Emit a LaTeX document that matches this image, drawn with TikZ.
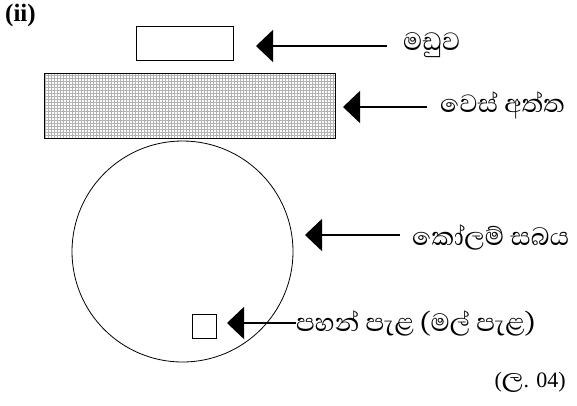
\documentclass[tikz,border=0pt]{standalone}
\usepackage{fontspec}
\setmainfont{Liberation Serif}
\newfontfamily\sinhfont[Script=Sinhala]{Abhaya Libre}
\usetikzlibrary{arrows.meta}
\begin{document}
\begin{tikzpicture}[x=1pt,y=-1pt,
  arr/.style={line width=1.5pt,-{Triangle[length=17pt,width=32pt]}},
  lbl/.style={anchor=west,inner sep=0pt,font=\sinhfont\fontsize{32}{36}\selectfont},
  shp/.style={draw,line width=0.9pt}]
\useasboundingbox (0,0) rectangle (577,405);
\node[anchor=north west,inner sep=0pt,font=\bfseries\fontsize{25}{28}\selectfont] (ii) at (5,4) {(ii)};
% stage
\node[shp,minimum width=97pt,minimum height=34pt,inner sep=0pt] (maduva) at (184.5,43) {};
% hatched rectangle
\fill[white] (44,73) rectangle (335,138);
\draw[gray!60,line width=0.35pt,step=3pt] (44,73) grid (335,138);
\node[draw,line width=1pt,minimum width=291pt,minimum height=65pt,inner sep=0pt] (wes) at (189.5,105.5) {};
% circle
\node[draw,circle,line width=0.8pt,minimum size=221pt,inner sep=0pt] (kolam) at (182.5,251.5) {};
% lamp
\node[draw,line width=0.8pt,minimum size=24pt,inner sep=0pt] (lamp) at (204,326) {};
% labels
\node[lbl] (l1) at (403,45) {මඩුව};
\node[lbl] (l2) at (440,105) {වෙස් අත්ත};
\node[lbl] (l3) at (412,237) {කෝලම් සබය};
\node[lbl] (l4) at (296,323) {පහන් පැළ (මල් පැළ)};
\node[anchor=east,inner sep=0pt,font=\fontsize{22}{26}\selectfont] (marks) at (566,382) {({\sinhfont\fontsize{34}{36}\selectfont ල}. 04)};
% arrows
\coordinate (s1) at (387,46); \coordinate (t1) at (256,46);
\coordinate (s2) at (427,107); \coordinate (t2) at (343,107);
\coordinate (s3) at (400,235); \coordinate (t3) at (305,235);
\coordinate (t4) at (227,323);
\draw[arr] (s1) -- (t1);
\draw[arr] (s2) -- (t2);
\draw[arr] (s3) -- (t3);
\draw[arr] (l4.west |- t4) -- (t4);
\end{tikzpicture}
\end{document}
